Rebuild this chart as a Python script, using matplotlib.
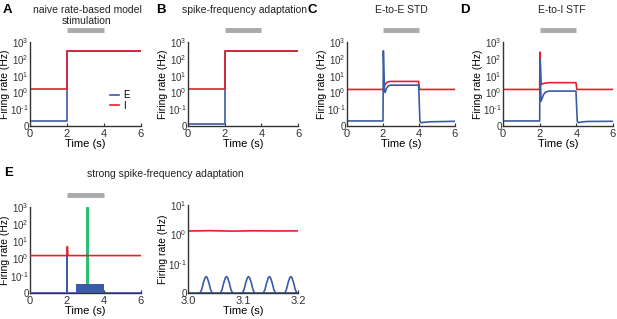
import numpy as np
import matplotlib
matplotlib.use("Agg")
import matplotlib.pyplot as plt
import matplotlib.transforms as mtransforms

plt.rcParams["font.family"] = ["Liberation Sans", "DejaVu Sans"]
plt.rcParams["mathtext.fontset"] = "custom"
plt.rcParams["mathtext.rm"] = "Liberation Sans"
plt.rcParams["mathtext.it"] = "Liberation Sans"

BLUE = "#3a5ba6"
RED = "#e4202b"
GREEN = "#2fbf74"
GRAY = "#aaaaaa"

# --- data ---
# A: naive rate-based model
t_a = [0, 2, 2, 6]
e_a = [0.03, 0.03, 300, 300]
i_a = [1.5, 1.5, 300, 300]

# B: spike-frequency adaptation
t_b = [0, 2, 2, 6]
e_b = [0.012, 0.012, 300, 300]
i_b = [1.5, 1.5, 300, 300]

# C: E-to-E STD
t_c_e = [0, 2.0, 2.02, 2.08, 2.12, 2.2, 2.3, 2.4, 3.98, 4.05, 4.1, 4.3, 4.6, 6]
e_c = [0.03, 0.03, 300, 1.2, 1.0, 1.8, 2.4, 2.7, 2.7, 0.03, 0.02, 0.022, 0.025, 0.028]
t_c_i = [0, 2.0, 2.05, 2.1, 2.2, 2.3, 2.4, 3.98, 4.03, 6]
i_c = [1.5, 1.5, 2.0, 2.8, 3.8, 4.3, 4.5, 4.5, 1.5, 1.5]

# D: E-to-I STF
t_d_e = [0, 2.0, 2.02, 2.07, 2.1, 2.2, 2.3, 2.5, 3.98, 4.05, 4.1, 4.3, 4.6, 6]
e_d = [0.03, 0.03, 100, 0.3, 0.35, 0.7, 1.0, 1.2, 1.2, 0.03, 0.02, 0.024, 0.027, 0.028]
t_d_i = [0, 2.0, 2.02, 2.08, 2.2, 2.5, 3.98, 4.03, 6]
i_d = [1.5, 1.5, 250, 2.9, 3.4, 3.8, 3.8, 1.5, 1.5]

# E: strong spike-frequency adaptation
t_e_e = [0, 2.0, 2.0, 2.01, 2.01, 6]
e_e = [0, 0, 1.4, 1.4, 0, 0]
t_e_i = [0, 1.99, 2.02, 2.05, 6]
i_e = [1.5, 1.5, 5.0, 1.5, 1.5]
osc_span = [2.5, 4.0]
osc_top = 0.055
zoom_span = [3.0, 3.2]
zoom_top = 1000

# E zoom: 3.0 - 3.2 s
t_z_i = [3.0, 3.04, 3.08, 3.12, 3.16, 3.2]
i_z = [1.3, 1.33, 1.29, 1.32, 1.3, 1.31]
bump_centers = [3.033, 3.070, 3.110, 3.148, 3.187]
bump_dt = [-0.011, -0.008, -0.005, -0.002, 0.0, 0.002, 0.005, 0.008, 0.011]
bump_val = [0, 0.012, 0.035, 0.052, 0.056, 0.052, 0.035, 0.012, 0]

stim = [2, 4]


def fwd(y):
    y = np.asarray(y, dtype=float)
    safe = np.where(y > 0.1, y, 0.1)
    return np.where(y <= 0.1, y * 10, np.log10(safe) + 2)


def inv(u):
    u = np.asarray(u, dtype=float)
    return np.where(u <= 1, u / 10, 10 ** (u - 2))


W, H = 617, 319
fig = plt.figure(figsize=(W / 100, H / 100), dpi=100)


def make_ax(left, right, top, bottom):
    ax = fig.add_axes([left / W, (H - bottom) / H, (right - left) / W, (bottom - top) / H])
    ax._w_px = right - left
    return ax


def style(ax, ymax=1000, xlim=(0, 6), xticks=(0, 2, 4, 6), xlabels=None):
    ax.set_yscale("function", functions=(fwd, inv))
    ax.set_ylim(0, ymax)
    ax.set_xlim(*xlim)
    yt = [0, 0.1, 1, 10, 100, 1000]
    yl = ["0", r"$10^{\text{-}1}$", "$10^{0}$", "$10^{1}$", "$10^{2}$", "$10^{3}$"]
    yt = [v for v in yt if v <= ymax]
    ax.set_yticks(yt)
    ax.set_yticklabels(yl[:len(yt)])
    ax.set_xticks(xticks)
    if xlabels is not None:
        ax.set_xticklabels(xlabels)
    ax.minorticks_off()
    for s in ["top", "right"]:
        ax.spines[s].set_visible(False)
    for s in ["left", "bottom"]:
        ax.spines[s].set_color("#333333")
        ax.spines[s].set_linewidth(1.0)
    ax.tick_params(direction="in", length=2, width=0.8, colors="#333333")
    ax.tick_params(axis="x", labelsize=8, pad=2.5)
    ax.tick_params(axis="y", length=0, labelsize=7, pad=1)
    ax.set_xlabel("Time (s)", fontsize=8, labelpad=0)
    ax.set_ylabel("Firing rate (Hz)", fontsize=7.5)
    ax.yaxis.set_label_coords(-20 / ax._w_px, 0.5)


def stim_bar(ax, span, y=1.14):
    trans = mtransforms.blended_transform_factory(ax.transData, ax.transAxes)
    ax.plot(span, [y, y], color=GRAY, lw=3.5, transform=trans, clip_on=False, solid_capstyle="butt")


lw = 1.2

ax_a = make_ax(30, 141, 42, 126)
ax_a.plot(t_a, e_a, color=BLUE, lw=lw, label="E")
ax_a.plot(t_a, i_a, color=RED, lw=lw, label="I")
style(ax_a)
stim_bar(ax_a, stim)
leg = ax_a.legend(loc="lower right", frameon=False, fontsize=7, handlelength=1.0,
                  handletextpad=0.4, labelspacing=0.05, borderaxespad=0.3,
                  bbox_to_anchor=(0.96, 0.1))

ax_b = make_ax(188, 298, 42, 126)
ax_b.plot(t_b, e_b, color=BLUE, lw=lw)
ax_b.plot(t_b, i_b, color=RED, lw=lw)
style(ax_b)
stim_bar(ax_b, stim)

ax_c = make_ax(347, 455, 42, 126)
ax_c.plot(t_c_i, i_c, color=RED, lw=lw)
ax_c.plot(t_c_e, e_c, color=BLUE, lw=lw)
style(ax_c)
stim_bar(ax_c, stim)

ax_d = make_ax(503, 613, 42, 126)
ax_d.plot(t_d_i, i_d, color=RED, lw=lw)
ax_d.plot(t_d_e, e_d, color=BLUE, lw=lw)
style(ax_d)
stim_bar(ax_d, stim)

ax_e = make_ax(30, 141, 207, 293)
ax_e.fill_between(zoom_span, [osc_top, osc_top], [zoom_top, zoom_top], color=GREEN, lw=0, zorder=1)
ax_e.fill_between(osc_span, [0, 0], [osc_top, osc_top], color=BLUE, lw=0, zorder=2)
ax_e.plot(t_e_e, e_e, color=BLUE, lw=lw, zorder=3)
ax_e.plot(t_e_i, i_e, color=RED, lw=lw, zorder=4)
style(ax_e)
stim_bar(ax_e, stim)

ax_z = make_ax(188, 298, 205, 293)
ax_z.plot(t_z_i, i_z, color=RED, lw=lw)
for c in bump_centers:
    ax_z.plot([c + d for d in bump_dt], bump_val, color=BLUE, lw=lw)
ax_z.plot([3.0, 3.2], [0, 0], color=BLUE, lw=lw)
style(ax_z, ymax=10, xlim=(3.0, 3.2), xticks=(3.0, 3.1, 3.2), xlabels=["3.0", "3.1", "3.2"])

# panel letters and titles
for letter, x, y in [("A", 3, 10), ("B", 156, 10), ("C", 308, 10), ("D", 460, 10), ("E", 4, 173)]:
    fig.text(x / W, 1 - y / H, letter, fontsize=9.5, fontweight="bold", va="center", ha="left")

titles = [("naive rate-based model", 87, 10), ("stimulation", 87, 21),
          ("spike-frequency adaptation", 244, 10), ("E-to-E STD", 401, 10),
          ("E-to-I STF", 562, 10), ("strong spike-frequency adaptation", 165, 174)]
for txt, x, y in titles:
    fig.text(x / W, 1 - y / H, txt, fontsize=7.5, va="center", ha="center", color="#222222")

fig.savefig("out.png", dpi=100)
